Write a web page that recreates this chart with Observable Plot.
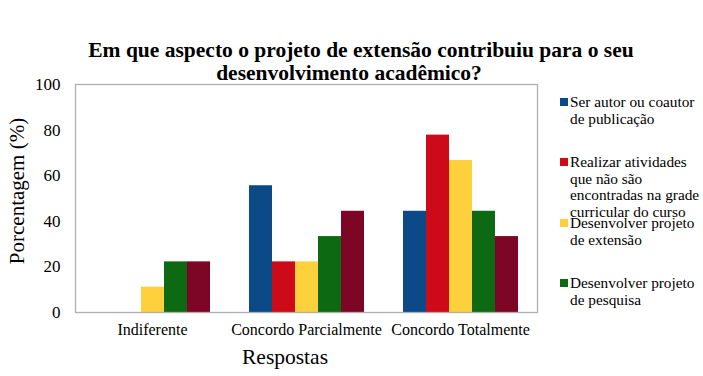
<!DOCTYPE html>
<html><head><meta charset="utf-8">
<script src="https://cdn.jsdelivr.net/npm/d3@7"></script>
<script src="https://cdn.jsdelivr.net/npm/@observablehq/plot@0.6"></script>
<style>
body{margin:0;background:#fff;}
#wrap{position:relative;width:703px;height:376px;font-family:"Liberation Serif","Times New Roman",serif;color:#000;overflow:hidden;}
#chart{position:absolute;left:0;top:0;}
.t{position:absolute;white-space:nowrap;transform:translate(-50%,-50%);}
.title{font-weight:bold;font-size:21.5px;}
.ytitle{font-size:21px;transform:translate(-50%,-50%) rotate(-90deg);}
.xtitle{font-size:21.5px;}
.leg{position:absolute;left:560px;font-size:15.3px;line-height:16.5px;}
.leg .sw{position:absolute;left:0;top:4px;width:8px;height:8px;}
.leg .lab{position:absolute;left:10px;white-space:nowrap;}
</style></head><body>
<div id="wrap"></div>
<script>
const categories = ["Indiferente", "Concordo Parcialmente", "Concordo Totalmente"];
const series = [
  "Ser autor ou coautor de publicação",
  "Realizar atividades que não são encontradas na grade curricular do curso",
  "Desenvolver projeto de extensão",
  "Desenvolver projeto de pesquisa",
  "Outros"
];
const legendLines = [
  ["Ser autor ou coautor", "de publicação"],
  ["Realizar atividades", "que não são", "encontradas na grade", "curricular do curso"],
  ["Desenvolver projeto", "de extensão"],
  ["Desenvolver projeto", "de pesquisa"]
];
const colors = ["#0b4a87", "#cc0a18", "#fdd13b", "#0e6a12", "#7d0626"];
const indiferente = [0, 0, 11.1, 22.2, 22.2];
const concordoParcialmente = [55.6, 22.2, 22.2, 33.3, 44.4];
const concordoTotalmente = [44.4, 77.8, 66.7, 44.4, 33.3];
const yTicks = [0, 20, 40, 60, 80, 100];
const titleLines = ["Em que aspecto o projeto de extensão contribuiu para o seu", "desenvolvimento acadêmico?"];
const yLabel = "Porcentagem (%)";
const xLabel = "Respostas";

const valuesByCat = [indiferente, concordoParcialmente, concordoTotalmente];
const data = [];
categories.forEach((c, i) => series.forEach((s, j) => data.push({cat: c, series: s, value: valuesByCat[i][j]})));

const chart = Plot.plot({
  width: 703,
  height: 376,
  marginLeft: 74,
  marginRight: 166,
  marginTop: 84,
  marginBottom: 64,
  style: {fontFamily: '"Liberation Serif","Times New Roman",serif', fontSize: "16px", color: "#000", background: "#fff"},
  fx: {domain: categories, padding: 0, label: null},
  x: {domain: series, paddingInner: 0, paddingOuter: 0.72, axis: null},
  y: {domain: [0, 100], ticks: yTicks, label: null},
  color: {domain: series, range: colors},
  marks: [
    Plot.axisFx({anchor: "bottom", tickSize: 0, tickPadding: 11, fontSize: 16, label: null}),
    Plot.axisY({ticks: yTicks, tickSize: 0, tickPadding: 15, fontSize: 17, label: null}),
    Plot.barY(data, {fx: "cat", x: "series", y: "value", fill: "series"}),
    Plot.frame({facet: "super", stroke: "#b0b0b0", strokeWidth: 1.3})
  ]
});
chart.id = "chart";
const wrap = document.getElementById("wrap");
wrap.appendChild(chart);

function addText(cls, txt, x, y) {
  const d = document.createElement("div");
  d.className = "t " + cls;
  d.textContent = txt;
  d.style.left = x + "px";
  d.style.top = y + "px";
  wrap.appendChild(d);
}
addText("title", titleLines[0], 361, 50);
addText("title", titleLines[1], 349, 73);
addText("ytitle", yLabel, 17, 191);
addText("xtitle", xLabel, 285, 357);

const legTops = [94, 154, 215, 275];
legendLines.forEach((lines, i) => {
  const e = document.createElement("div");
  e.className = "leg";
  e.style.top = legTops[i] + "px";
  const sw = document.createElement("div");
  sw.className = "sw";
  sw.style.background = colors[i];
  e.appendChild(sw);
  const lab = document.createElement("div");
  lab.className = "lab";
  lab.innerHTML = lines.join("<br>");
  e.appendChild(lab);
  wrap.appendChild(e);
});
</script>
</body></html>
